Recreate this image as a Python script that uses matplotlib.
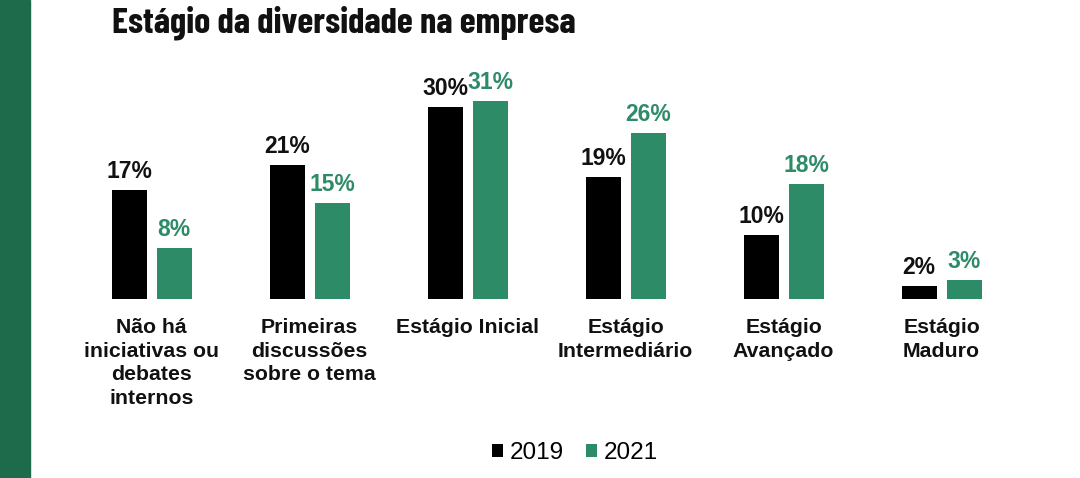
import matplotlib.pyplot as plt
import numpy as np
from matplotlib.patches import Rectangle

# data
categorias = ["Não há\niniciativas ou\ndebates\ninternos",
              "Primeiras\ndiscussões\nsobre o tema",
              "Estágio Inicial",
              "Estágio\nIntermediário",
              "Estágio\nAvançado",
              "Estágio\nMaduro"]
v2019 = [17, 21, 30, 19, 10, 2]
v2021 = [8, 15, 31, 26, 18, 3]
anos = ["2019", "2021"]

preto = "#000000"
verde = "#2e8b68"
verde_escuro = "#1e6b4c"

fig = plt.figure(figsize=(10.8, 4.78), dpi=100)
fig.patch.set_facecolor("white")

# green strip on the left
fig.patches.append(Rectangle((0, 0), 30 / 1080, 1, transform=fig.transFigure,
                             color=verde_escuro, zorder=0))

# title
fig.text(112 / 1080, 1 - 32 / 478, "Estágio da diversidade na empresa",
         family=["Barlow Condensed", "Roboto Condensed", "Archivo Narrow", "Asap Condensed", "DejaVu Sans"],
         weight="bold", fontsize=26.3, color="#111111", va="baseline", ha="left")

# axes: baseline at y=299 px, 6.4 px per %
ax = fig.add_axes([40 / 1080, (478 - 299) / 478, 1020 / 1080, 239 / 478])
ax.set_xlim(-0.706, -0.706 + 1020 / 158)
ax.set_ylim(0, 239 / 6.4)
ax.axis("off")

x = np.arange(len(categorias))
w = 35 / 158
d = 22.5 / 158
b1 = ax.bar(x - d, v2019, w, color=preto, label=anos[0])
b2 = ax.bar(x + d, v2021, w, color=verde, label=anos[1])

for r, v in zip(b1, v2019):
    ax.annotate(f"{v}%", (r.get_x() + r.get_width() / 2, v), xytext=(0, 5),
                textcoords="offset points", ha="center", va="bottom",
                family="Liberation Sans", weight="bold", fontsize=16.5, color="#111111")
for r, v in zip(b2, v2021):
    ax.annotate(f"{v}%", (r.get_x() + r.get_width() / 2, v), xytext=(0, 5),
                textcoords="offset points", ha="center", va="bottom",
                family="Liberation Sans", weight="bold", fontsize=16.5, color=verde)

for xi, lab in zip(x, categorias):
    ax.annotate(lab, (xi, 0), xytext=(0, -14), textcoords="offset points",
                ha="center", va="top", family="Liberation Sans", weight="bold",
                fontsize=15.3, color="#111111", linespacing=1.3,
                annotation_clip=False)

fig.legend(handles=[b1, b2], labels=anos, loc="center", bbox_to_anchor=(575 / 1080, 1 - 453 / 478),
           ncol=2, frameon=False, prop={"family": "Liberation Sans", "size": 17.5},
           handlelength=0.45, handleheight=0.45, handletextpad=0.3, columnspacing=0.9)

fig.savefig("out.png", dpi=100, facecolor="white")
